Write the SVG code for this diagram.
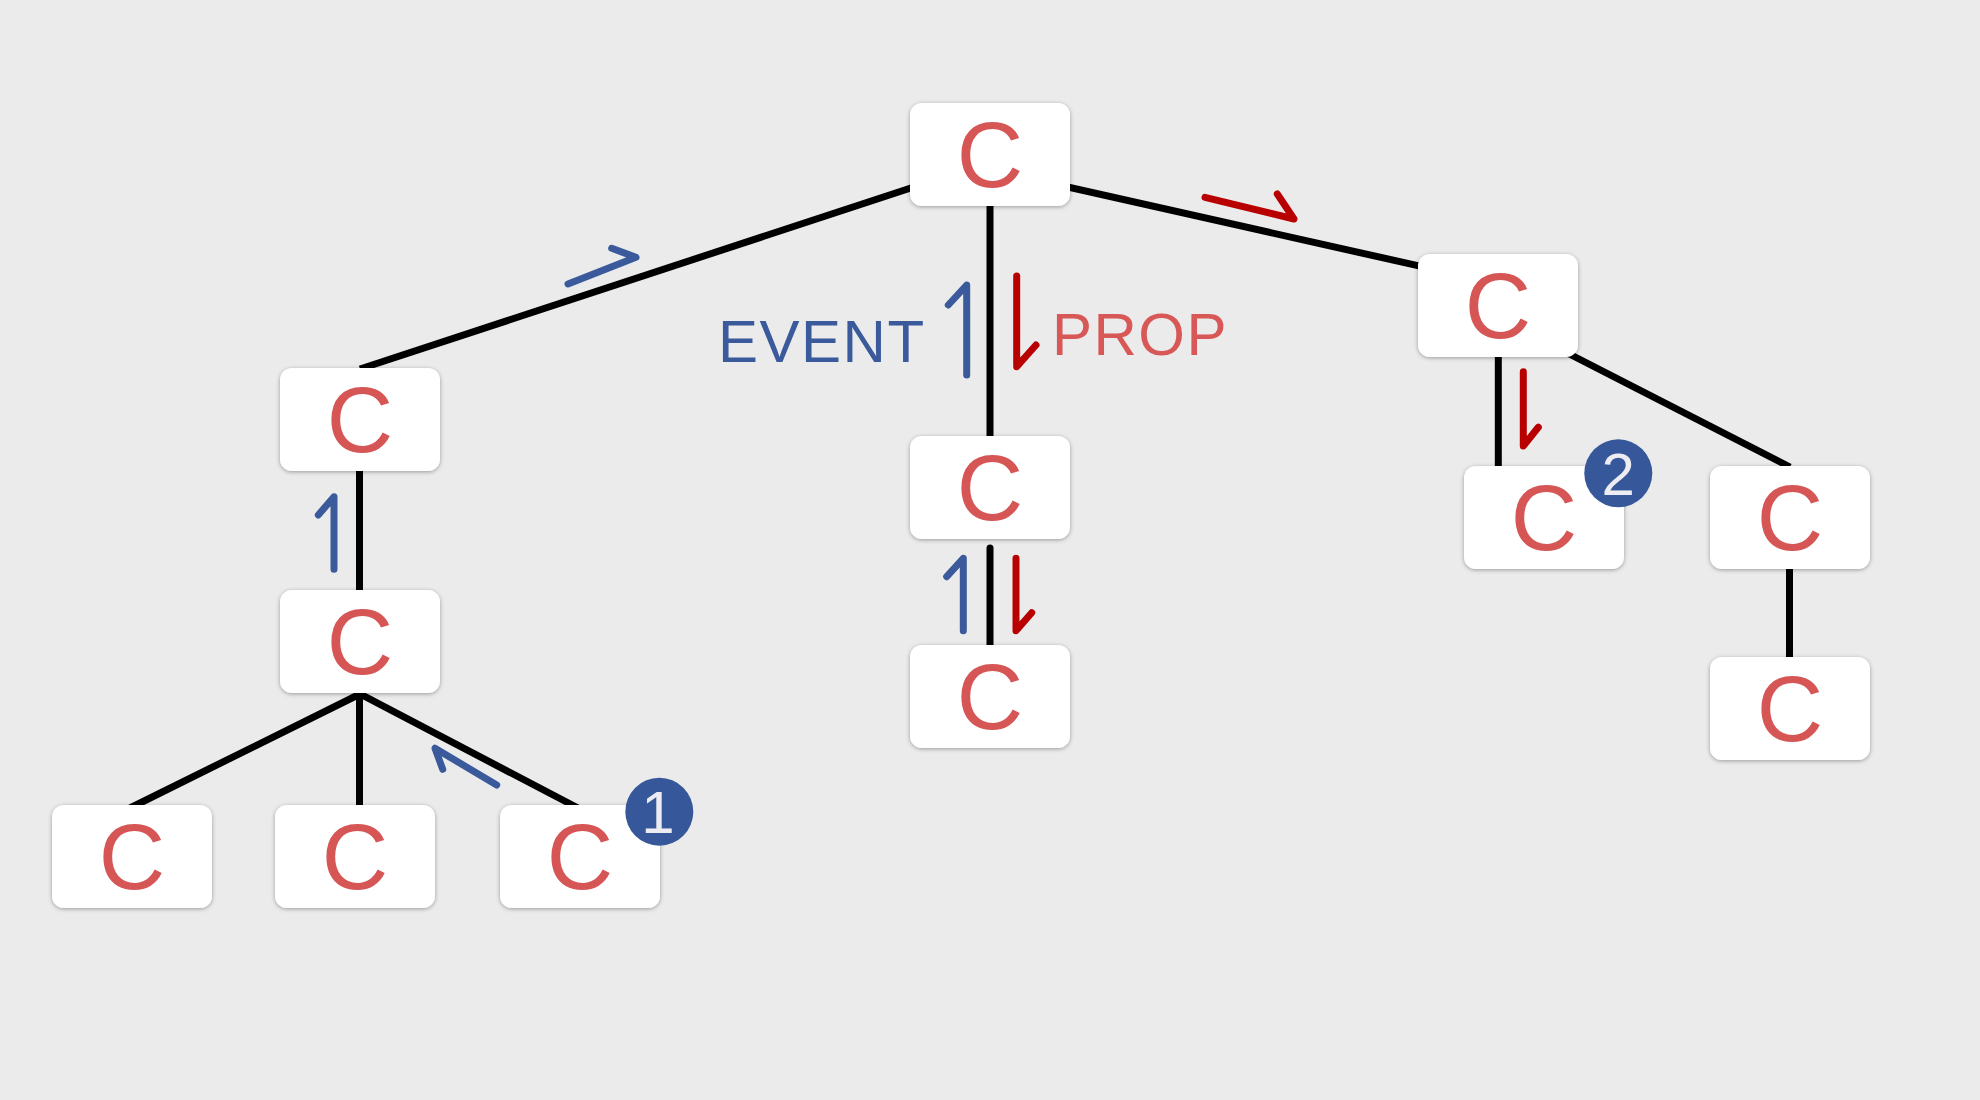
<svg xmlns="http://www.w3.org/2000/svg" width="1980" height="1100" viewBox="0 0 1980 1100">
<defs>
<filter id="sh" x="-10%" y="-10%" width="120%" height="125%">
<feDropShadow dx="0" dy="1" stdDeviation="2" flood-color="#000" flood-opacity="0.35"/>
</filter>
<style>
.node rect{fill:#fff;filter:url(#sh)}
.node text{font-family:"Liberation Sans",Arial,sans-serif;font-size:92px;fill:#d65555;text-anchor:middle}
.edge{stroke:#000;stroke-width:7;fill:none}
.ev{stroke:#3a5a9c;stroke-width:7;fill:none;stroke-linecap:round;stroke-linejoin:round}
.pr{stroke:#b80000;stroke-width:7;fill:none;stroke-linecap:round;stroke-linejoin:round}
.badge circle{fill:#36589a}
.badge text{font-family:"Liberation Sans",Arial,sans-serif;font-size:60px;fill:#ececf2;text-anchor:middle}
.lbl{font-family:"Liberation Sans",Arial,sans-serif;font-size:60px;letter-spacing:1.5px}
</style>
</defs>
<rect x="0" y="0" width="1980" height="1100" fill="#ebebeb"/>
<g id="connectors">
<line class="edge" x1="990" y1="162" x2="360" y2="369"/>
<line class="edge" x1="990" y1="169.6" x2="1430" y2="268.4"/>
<line class="edge" x1="990" y1="200" x2="990" y2="440"/>
<line class="edge" x1="990" y1="548" x2="990" y2="650" stroke-linecap="round"/>
<line class="edge" x1="359.5" y1="465" x2="359.5" y2="594"/>
<polyline class="edge" points="130,808 360,694 578,808"/>
<line class="edge" x1="359.5" y1="690" x2="359.5" y2="808"/>
<line class="edge" x1="1498.3" y1="350" x2="1498.3" y2="470"/>
<line class="edge" x1="1540" y1="339" x2="1790" y2="467"/>
<line class="edge" x1="1789.5" y1="565" x2="1789.5" y2="660"/>
</g>
<g id="flows">
<path class="ev" d="M568,284 L636,257.3 L611.7,248.3"/>
<path class="ev" d="M334,569.3 L334,496.7 L318.3,515"/>
<path class="ev" d="M496.7,785 L435,748.3 L442.7,769.3"/>
<path class="ev" d="M966.7,375 L966.7,285 L948.3,305"/>
<path class="ev" d="M963.3,630.7 L963.3,558.3 L946.7,576.7"/>
<path class="pr" d="M1205,197.3 L1294,219 L1277.3,194"/>
<path class="pr" d="M1016.7,276 L1016.7,366.7 L1036,345"/>
<path class="pr" d="M1016,558.3 L1016,630.7 L1031.7,612.7"/>
<path class="pr" d="M1523.3,371.7 L1523.3,446 L1538.3,427.3"/>
</g>
<text class="lbl" x="718" y="362" fill="#3a5a9c">EVENT</text>
<text class="lbl" x="1052" y="354.5" fill="#d85858">PROP</text>
<g id="n0" class="node"><rect x="910" y="103" width="160" height="103" rx="12"/><text x="990" y="187">C</text></g>
<g id="nL1" class="node"><rect x="280" y="368" width="160" height="103" rx="12"/><text x="360" y="452">C</text></g>
<g id="nL2" class="node"><rect x="280" y="590" width="160" height="103" rx="12"/><text x="360" y="674">C</text></g>
<g id="nB1" class="node"><rect x="52" y="805" width="160" height="103" rx="12"/><text x="132" y="889">C</text></g>
<g id="nB2" class="node"><rect x="275" y="805" width="160" height="103" rx="12"/><text x="355" y="889">C</text></g>
<g id="nB3" class="node"><rect x="500" y="805" width="160" height="103" rx="12"/><text x="580" y="889">C</text></g>
<g id="nM1" class="node"><rect x="910" y="436" width="160" height="103" rx="12"/><text x="990" y="520">C</text></g>
<g id="nM2" class="node"><rect x="910" y="645" width="160" height="103" rx="12"/><text x="990" y="729">C</text></g>
<g id="nR" class="node"><rect x="1418" y="254" width="160" height="103" rx="12"/><text x="1498" y="338">C</text></g>
<g id="nRC1" class="node"><rect x="1464" y="466" width="160" height="103" rx="12"/><text x="1544" y="550">C</text></g>
<g id="nRC2" class="node"><rect x="1710" y="466" width="160" height="103" rx="12"/><text x="1790" y="550">C</text></g>
<g id="nRC3" class="node"><rect x="1710" y="657" width="160" height="103" rx="12"/><text x="1790" y="741">C</text></g>
<g id="badge1" class="badge"><circle cx="659.3" cy="811.7" r="34"/><text x="658" y="833">1</text></g>
<g id="badge2" class="badge"><circle cx="1618.3" cy="473.3" r="34"/><text x="1618.3" y="495">2</text></g>
</svg>
